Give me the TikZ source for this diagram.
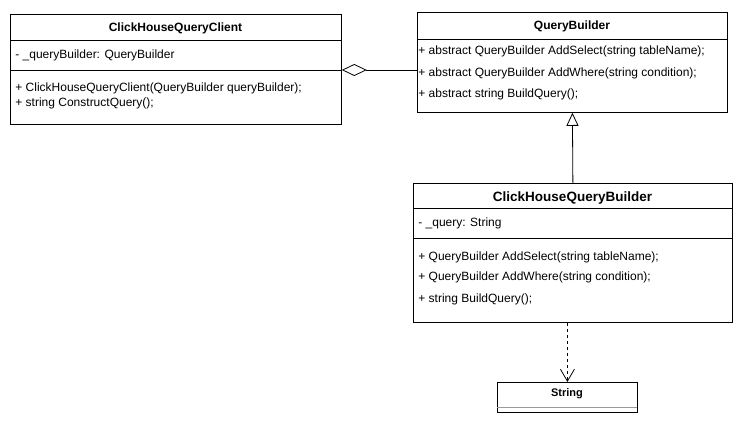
\documentclass[tikz,border=0pt]{standalone}
\usepackage{fontspec}
\setmainfont{Liberation Sans}
\usetikzlibrary{arrows.meta}
\begin{document}
\begin{tikzpicture}[x=1pt,y=-1pt,line width=0.8pt,
  classbox/.style={draw=black,fill=white,anchor=north west,inner sep=0pt},
  txt/.style={anchor=west,inner sep=0pt,yshift=-1.2pt,font=\fontsize{12}{14}\selectfont,text height=8.6pt,text depth=2.5pt},
  ttl/.style={inner sep=0pt,yshift=-1pt,font=\fontsize{12}{14}\selectfont\bfseries},
  divider/.style={draw=black,line width=0.8pt}]
\useasboundingbox (0,0) rectangle (742,434);
\fill[white] (0,0) rectangle (742,434);

% ClickHouseQueryClient
\node[classbox,minimum width=331pt,minimum height=110pt] (client) at (10,14) {};
\draw[divider] (10,40) -- (341,40);
\draw[divider] (10,70) -- (341,70);
\node[ttl] (clientT) at (175.5,27) {ClickHouseQueryClient};
\node[txt] (clientA) at (15,54) {- \_queryBuilder: QueryBuilder};
\node[txt] (clientM1) at (15,87) {+ ClickHouseQueryClient(QueryBuilder queryBuilder);};
\node[txt] (clientM2) at (15,102) {+ string ConstructQuery();};

% QueryBuilder
\node[classbox,minimum width=310pt,minimum height=100pt] (qb) at (417,12) {};
\draw[divider] (417,39) -- (727,39);
\node[ttl] (qbT) at (572,25) {QueryBuilder};
\node[txt] (qbM1) at (418,50) {+ abstract QueryBuilder AddSelect(string tableName);};
\node[txt] (qbM2) at (418,72) {+ abstract QueryBuilder AddWhere(string condition);};
\node[txt] (qbM3) at (418,93) {+ abstract string BuildQuery();};

% ClickHouseQueryBuilder
\node[classbox,minimum width=319pt,minimum height=139pt] (chqb) at (413,183) {};
\draw[divider] (413,208) -- (732,208);
\draw[divider] (413,238) -- (732,238);
\node[ttl,font=\fontsize{13.5}{16}\selectfont\bfseries] (chqbT) at (572.5,197) {ClickHouseQueryBuilder};
\node[txt] (chqbA) at (418,222) {- \_query: String};
\node[txt] (chqbM1) at (418,256) {+ QueryBuilder AddSelect(string tableName);};
\node[txt] (chqbM2) at (418,276) {+ QueryBuilder AddWhere(string condition);};
\node[txt] (chqbM3) at (418,298) {+ string BuildQuery();};

% String
\node[classbox,minimum width=140pt,minimum height=30pt] (str) at (497,382) {};
\draw[draw=gray!80,line width=0.8pt] (497,407) -- (637,407);
\node[ttl,font=\fontsize{11}{13}\selectfont\bfseries] (strT) at (567,393) {String};

% Connectors
\coordinate (aggA) at (client.east |- 0,70);
\coordinate (aggB) at (qb.west |- 0,70);
\draw[-{Diamond[open,length=25pt,width=12pt,line width=0.8pt]}] (aggB) -- (aggA);

\draw[-{Triangle[open,length=13pt,width=12pt,line width=0.8pt]}] (chqb.north) -- (qb.south);

\coordinate (depA) at (chqb.south -| str.north);
\draw[dash pattern=on 3pt off 3pt,-{Straight Barb[length=12pt,width=14pt,line width=0.8pt]}] (depA) -- (str.north);
\end{tikzpicture}
\end{document}
